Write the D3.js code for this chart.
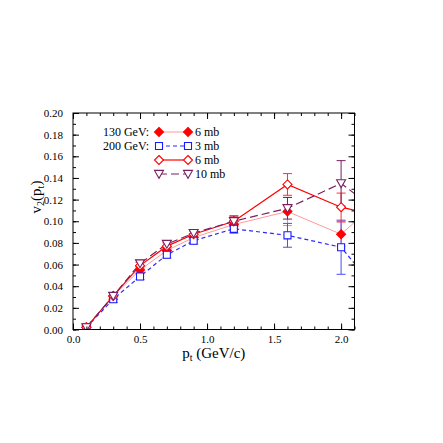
<!DOCTYPE html>
<html><head><meta charset="utf-8">
<script src="https://cdn.jsdelivr.net/npm/d3@7"></script>
<style>body{margin:0;background:#fff}svg{display:block}text{font-family:"Liberation Serif","DejaVu Serif",serif}</style>
</head><body>
<svg id="c" width="443" height="443"></svg>
<script>
// ---- data ----
const pt = [0.1, 0.3, 0.5, 0.7, 0.9, 1.2, 1.6, 2.0, 2.4];
const v130_6mb   = [0.002, 0.031, 0.055, 0.073, 0.085, 0.097, 0.109, 0.088, 0.132];
const e130_6mb   = [0.002, 0.003, 0.003, 0.003, 0.003, 0.004, 0.013, 0.011, 0];
const v200_3mb   = [0.002, 0.028, 0.049, 0.069, 0.082, 0.093, 0.087, 0.076, 0.016];
const e200_3mb   = [0.002, 0.003, 0.003, 0.003, 0.003, 0.004, 0.011, 0.025, 0];
const v200_6mb   = [0.002, 0.031, 0.059, 0.077, 0.088, 0.100, 0.134, 0.113, 0.102];
const e200_6mb   = [0.002, 0.003, 0.003, 0.003, 0.003, 0.004, 0.010, 0.013, 0];
const v200_10mb  = [0.002, 0.031, 0.061, 0.079, 0.089, 0.100, 0.112, 0.135, 0.097];
const e200_10mb  = [0.002, 0.003, 0.003, 0.003, 0.003, 0.005, 0.010, 0.021, 0];
const xTicks = [0.0, 0.5, 1.0, 1.5, 2.0];
const xTickLabels = ["0.0", "0.5", "1.0", "1.5", "2.0"];
const yTicks = [0.00, 0.02, 0.04, 0.06, 0.08, 0.10, 0.12, 0.14, 0.16, 0.18, 0.20];
const yTickLabels = ["0.00","0.02","0.04","0.06","0.08","0.10","0.12","0.14","0.16","0.18","0.20"];
const legendGroups = ["130 GeV:", "200 GeV:", "", ""];
const legendLabels = ["6 mb", "3 mb", "6 mb", "10 mb"];

const series = [
  {v: v130_6mb,  e: e130_6mb,  line: "#ff9a9a", mark: "#ff0000", ebar: "#ff8080", sym: "diamond", fill: true,  dash: null,  lw: 1},
  {v: v200_3mb,  e: e200_3mb,  line: "#2a2aff", mark: "#1a1aff", ebar: "#4a4aff", sym: "square",  fill: false, dash: "4,3", lw: 1.2},
  {v: v200_6mb,  e: e200_6mb,  line: "#ff0000", mark: "#ff0000", ebar: "#ff3030", sym: "diamond", fill: false, dash: null,  lw: 1.2},
  {v: v200_10mb, e: e200_10mb, line: "#7a1f62", mark: "#7a1f62", ebar: "#7a1f62", sym: "tri",     fill: false, dash: "8,4", lw: 1.2}
];

// ---- layout ----
const svg = d3.select("#c");
const L = 73, R = 354.5, T = 113, B = 329.5;
const x = d3.scaleLinear().domain([0, 2.1]).range([L, R]);
const y = d3.scaleLinear().domain([0, 0.2]).range([B, T]);

svg.append("defs").append("clipPath").attr("id", "clip")
  .append("rect").attr("x", L).attr("y", T).attr("width", R - L).attr("height", B - T);

function symPath(type, s) {
  if (type === "diamond") return `M0,${-s}L${s},0L0,${s}L${-s},0Z`;
  if (type === "square") { const h = s * 0.78; return `M${-h},${-h}H${h}V${h}H${-h}Z`; }
  if (type === "tri") { const h = s; return `M${-h},${-h*0.8}L${h},${-h*0.8}L0,${h*0.95}Z`; }
}

const plot = svg.append("g").attr("clip-path", "url(#clip)");
const lineGen = d3.line().x((d, i) => x(pt[i])).y(d => y(d));

series.forEach(s => {
  plot.append("path").attr("d", lineGen(s.v)).attr("fill", "none")
    .attr("stroke", s.line).attr("stroke-width", s.lw)
    .attr("stroke-dasharray", s.dash);
});
series.forEach(s => {
  const g = plot.append("g");
  s.v.forEach((val, i) => {
    if (!s.e[i]) return;
    const cx = x(pt[i]);
    g.append("line").attr("x1", cx).attr("x2", cx).attr("y1", y(val - s.e[i])).attr("y2", y(val + s.e[i]))
      .attr("stroke", s.ebar).attr("stroke-width", 1);
    [val - s.e[i], val + s.e[i]].forEach(w => {
      g.append("line").attr("x1", cx - 4.5).attr("x2", cx + 4.5).attr("y1", y(w)).attr("y2", y(w))
        .attr("stroke", s.ebar).attr("stroke-width", 1);
    });
  });
});
series.forEach(s => {
  s.v.forEach((val, i) => {
    plot.append("path").attr("d", symPath(s.sym, 4.5))
      .attr("transform", `translate(${x(pt[i])},${y(val)})`)
      .attr("fill", s.fill ? s.mark : "#fff").attr("stroke", s.mark).attr("stroke-width", 1.1);
  });
});

// ---- frame & axes ----
svg.append("rect").attr("x", L).attr("y", T).attr("width", R - L).attr("height", B - T)
  .attr("fill", "none").attr("stroke", "#000").attr("stroke-width", 1);

const xMinor = d3.range(0, 2.11, 0.1).map(d => +d.toFixed(2));
const yMinor = d3.range(0, 0.2001, 0.01).map(d => +d.toFixed(3));

function axisG(axis, tr) {
  const g = svg.append("g").attr("transform", tr).call(axis);
  g.select(".domain").remove();
  g.selectAll("line").attr("stroke", "#000").attr("stroke-width", 1);
  return g;
}
// bottom
axisG(d3.axisBottom(x).tickValues(xMinor).tickSize(-3).tickFormat(""), `translate(0,${B})`);
const xb = axisG(d3.axisBottom(x).tickValues(xTicks).tickSize(-6).tickPadding(6)
  .tickFormat((d, i) => xTickLabels[i]), `translate(0,${B})`);
xb.selectAll("text").attr("font-size", 11).attr("fill", "#000").attr("font-family", "Liberation Serif");
// top
axisG(d3.axisTop(x).tickValues(xMinor).tickSize(-3).tickFormat(""), `translate(0,${T})`);
axisG(d3.axisTop(x).tickValues(xTicks).tickSize(-6).tickFormat(""), `translate(0,${T})`);
// left
axisG(d3.axisLeft(y).tickValues(yMinor).tickSize(-3).tickFormat(""), `translate(${L},0)`);
const yl = axisG(d3.axisLeft(y).tickValues(yTicks).tickSize(-6).tickPadding(10)
  .tickFormat((d, i) => yTickLabels[i]), `translate(${L},0)`);
yl.selectAll("text").attr("font-size", 11).attr("fill", "#000").attr("font-family", "Liberation Serif");
// right
axisG(d3.axisRight(y).tickValues(yMinor).tickSize(-3).tickFormat(""), `translate(${R},0)`);
axisG(d3.axisRight(y).tickValues(yTicks).tickSize(-6).tickFormat(""), `translate(${R},0)`);

// axis titles
const xt = svg.append("text").attr("x", (L + R) / 2).attr("y", 358).attr("text-anchor", "middle")
  .attr("font-size", 15);
xt.append("tspan").text("p");
xt.append("tspan").attr("dy", 3).attr("font-size", 10).text("t");
xt.append("tspan").attr("dy", -3).text(" (GeV/c)");

const yt = svg.append("text").attr("transform", `translate(41,197) rotate(-90)`)
  .attr("text-anchor", "middle").attr("font-size", 15);
yt.append("tspan").text("v");
yt.append("tspan").attr("dy", 3).attr("font-size", 10).text("2");
yt.append("tspan").attr("dy", -3).text("(p");
yt.append("tspan").attr("dy", 3).attr("font-size", 10).text("t");
yt.append("tspan").attr("dy", -3).text(")");

// legend
const legY = [132, 146, 160, 174];
const lx1 = 159, lx2 = 188;
series.forEach((s, i) => {
  const yy = legY[i];
  if (legendGroups[i]) svg.append("text").attr("x", 149).attr("y", yy + 4).attr("text-anchor", "end")
    .attr("font-size", 12).text(legendGroups[i]);
  svg.append("line").attr("x1", lx1).attr("x2", lx2).attr("y1", yy).attr("y2", yy)
    .attr("stroke", s.line).attr("stroke-width", s.lw).attr("stroke-dasharray", s.dash);
  [lx1, lx2].forEach(px => svg.append("path").attr("d", symPath(s.sym, 4.5))
    .attr("transform", `translate(${px},${yy})`)
    .attr("fill", s.fill ? s.mark : "#fff").attr("stroke", s.mark).attr("stroke-width", 1.1));
  svg.append("text").attr("x", 195).attr("y", yy + 4).attr("font-size", 12).text(legendLabels[i]);
});
</script>
</body></html>
